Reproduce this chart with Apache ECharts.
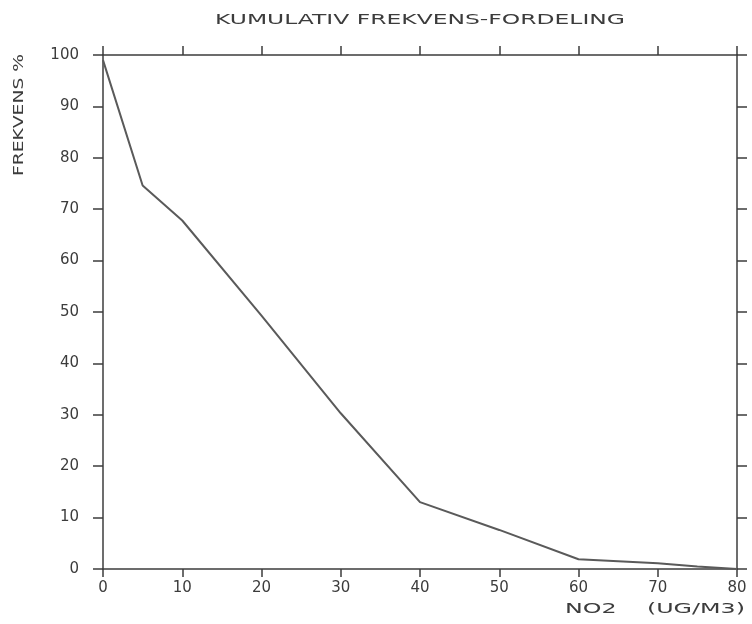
<!DOCTYPE html>
<html>
<head>
<meta charset="utf-8">
<style>
  html, body { margin: 0; padding: 0; background: #ffffff; }
  #chart { width: 752px; height: 624px; }
</style>
<script src="https://cdn.jsdelivr.net/npm/echarts@6/dist/echarts.min.js"></script>
</head>
<body>
<div id="chart"></div>
<script>
// Cumulative frequency distribution of NO2 concentrations
const titleText = 'KUMULATIV FREKVENS-FORDELING';
const yName = 'FREKVENS %';
const xName = 'NO2    (UG/M3)';

const no2Values = [0, 5, 10, 20, 30, 40, 50, 60, 70, 75, 80];       // ug/m3
const cumFreq   = [99, 74.6, 67.8, 49.3, 30.3, 13, 7.6, 1.9, 1.1, 0.5, 0]; // percent

const xTicks = [0, 10, 20, 30, 40, 50, 60, 70, 80];
const yTicks = [0, 10, 20, 30, 40, 50, 60, 70, 80, 90, 100];

const ink = '#3c3c3c';
const fontFamily = '"DejaVu Sans", sans-serif';

// measure a string so wide plotter-style lettering can be stretched to a target width
const measureCtx = document.createElement('canvas').getContext('2d');
function stretchFor(text, size, targetWidth) {
  measureCtx.font = size + 'px ' + fontFamily;
  return targetWidth / measureCtx.measureText(text).width;
}

const chart = echarts.init(document.getElementById('chart'), null, { renderer: 'canvas' });

const plotLeft = 103, plotRight = 737, plotTop = 55, plotBottom = 569;

const baseAxis = {
  type: 'value',
  splitLine: { show: false },
  axisLine: { show: true, onZero: false, lineStyle: { color: ink, width: 1.5 } },
  axisTick: { show: true, inside: false, lineStyle: { color: ink, width: 1.5 } }
};

const tickLabelStyle = {
  color: ink,
  fontFamily: fontFamily,
  fontSize: 15
};

const option = {
  backgroundColor: '#ffffff',
  animation: false,
  grid: {
    left: plotLeft,
    right: 752 - plotRight,
    top: plotTop,
    bottom: 624 - plotBottom,
    containLabel: false
  },
  xAxis: [
    Object.assign({}, baseAxis, {
      position: 'bottom',
      min: xTicks[0],
      max: xTicks[xTicks.length - 1],
      interval: xTicks[1] - xTicks[0],
      axisTick: Object.assign({}, baseAxis.axisTick, { length: 8 }),
      axisLabel: Object.assign({ margin: 12 }, tickLabelStyle)
    }),
    Object.assign({}, baseAxis, {
      position: 'top',
      min: xTicks[0],
      max: xTicks[xTicks.length - 1],
      interval: xTicks[1] - xTicks[0],
      axisTick: Object.assign({}, baseAxis.axisTick, { length: 9 }),
      axisLabel: { show: false }
    })
  ],
  yAxis: [
    Object.assign({}, baseAxis, {
      position: 'left',
      min: yTicks[0],
      max: yTicks[yTicks.length - 1],
      interval: yTicks[1] - yTicks[0],
      axisTick: Object.assign({}, baseAxis.axisTick, { length: 10 }),
      axisLabel: Object.assign({ margin: 24 }, tickLabelStyle)
    }),
    Object.assign({}, baseAxis, {
      position: 'right',
      min: yTicks[0],
      max: yTicks[yTicks.length - 1],
      interval: yTicks[1] - yTicks[0],
      axisTick: Object.assign({}, baseAxis.axisTick, { length: 10 }),
      axisLabel: { show: false }
    })
  ],
  graphic: [
    {
      type: 'text',
      x: (plotLeft + plotRight) / 2,
      y: 20,
      scaleX: stretchFor(titleText, 14, 410),
      style: {
        text: titleText,
        fill: ink,
        font: '14px ' + fontFamily,
        textAlign: 'center',
        textVerticalAlign: 'middle'
      }
    },
    {
      type: 'text',
      x: 19,
      y: 115,
      rotation: Math.PI / 2,
      scaleX: stretchFor(yName, 14, 122),
      style: {
        text: yName,
        fill: ink,
        font: '14px ' + fontFamily,
        textAlign: 'center',
        textVerticalAlign: 'middle'
      }
    },
    {
      type: 'text',
      x: 745,
      y: 609,
      scaleX: stretchFor(xName, 14, 180),
      style: {
        text: xName,
        fill: ink,
        font: '14px ' + fontFamily,
        textAlign: 'right',
        textVerticalAlign: 'middle'
      }
    }
  ],
  series: [
    {
      type: 'line',
      xAxisIndex: 0,
      yAxisIndex: 0,
      data: no2Values.map((x, i) => [x, cumFreq[i]]),
      symbol: 'none',
      smooth: false,
      lineStyle: { color: '#5a5a5a', width: 2 }
    }
  ]
};

chart.setOption(option);
</script>
</body>
</html>
